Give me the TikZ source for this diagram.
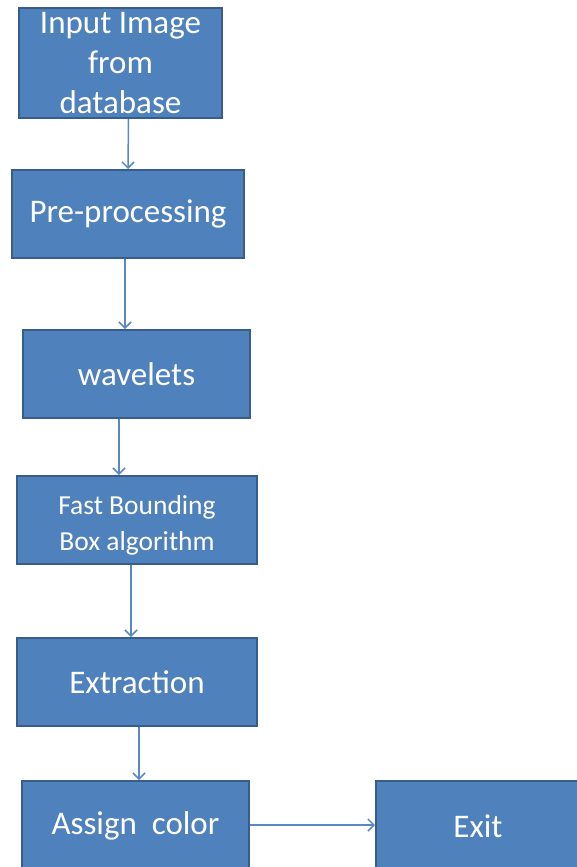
\documentclass[tikz,border=0pt]{standalone}
\usepackage{fontspec}
\setmainfont{Carlito}
\usetikzlibrary{arrows.meta}
\definecolor{boxfill}{HTML}{4F81BD}
\definecolor{boxline}{HTML}{385D8A}
\definecolor{arrowcol}{HTML}{5A88C4}
\tikzset{
  flowbox/.style={draw=boxline, line width=2pt, fill=boxfill, text=white, align=center,
    inner sep=0pt, font=\fontsize{33}{40}\selectfont},
  smallbox/.style={flowbox, font=\fontsize{27.5}{36}\selectfont},
  arr/.style={draw=arrowcol, line width=1.5pt, -{Straight Barb[length=6pt,width=12pt]}}
}
\begin{document}
\begin{tikzpicture}[x=1pt,y=1pt]
\useasboundingbox (0,0) rectangle (576,-867);
\node[flowbox, minimum width=203pt, minimum height=110pt] (in) at (120.5,-63) {Input Image\\from\\database};
\node[flowbox, minimum width=232pt, minimum height=88pt] (pre) at (128,-214) {Pre-processing};
\node[flowbox, minimum width=227pt, minimum height=88pt] (wav) at (136.5,-374) {wavelets};
\node[smallbox, minimum width=240pt, minimum height=88pt] (fbb) at (137,-520) {\rule{0pt}{30pt}Fast Bounding\\Box algorithm};
\node[flowbox, minimum width=240pt, minimum height=88pt] (ext) at (137,-682) {Extraction};
\node[flowbox, minimum width=227pt, minimum height=90pt] (asg) at (135.5,-826) {Assign~~color};
\node[flowbox, minimum width=204pt, minimum height=90pt] (exit) at (478,-826) {Exit};
\draw[arr] ([xshift=8pt]in.south) -- ([xshift=0pt]pre.north);
\draw[arr] ([xshift=-3pt]pre.south) -- ([xshift=-11.5pt]wav.north);
\draw[arr] ([xshift=-17.5pt]wav.south) -- ([xshift=-18pt]fbb.north);
\draw[arr] ([xshift=-6pt]fbb.south) -- ([xshift=-6pt]ext.north);
\draw[arr] ([xshift=2pt]ext.south) -- ([xshift=3.5pt]asg.north);
\draw[arr] ([yshift=1pt]asg.east) -- ([yshift=1pt]exit.west);
\end{tikzpicture}
\end{document}
